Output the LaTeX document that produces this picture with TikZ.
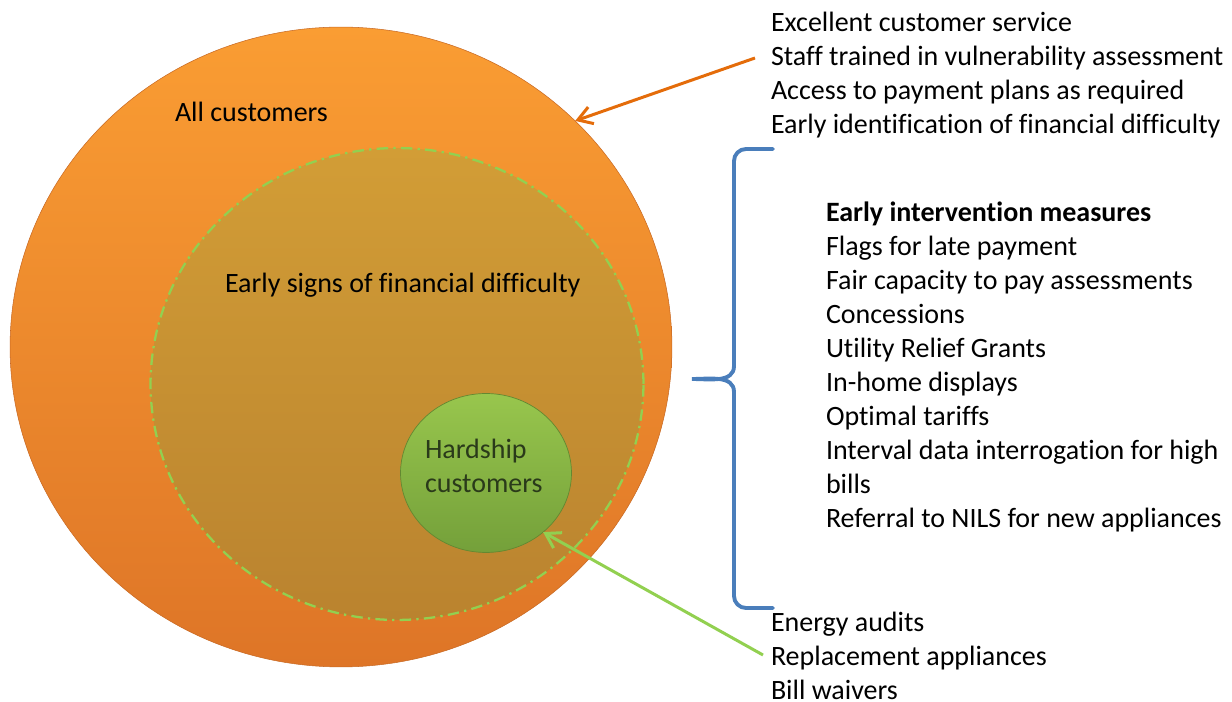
\documentclass[tikz,border=0pt]{standalone}
\usepackage{fontspec}
\setmainfont{Carlito}[Ligatures=NoCommon]
\usetikzlibrary{shapes.geometric,arrows.meta}
\definecolor{orangeTop}{HTML}{FA9D33}
\definecolor{orangeBot}{HTML}{DE7527}
\definecolor{midTop}{HTML}{D29D36}
\definecolor{midBot}{HTML}{BA832F}
\definecolor{greenTop}{HTML}{98C64D}
\definecolor{greenBot}{HTML}{74A03A}
\definecolor{greenLine}{HTML}{92D050}
\definecolor{orangeLine}{HTML}{E46C0A}
\definecolor{braceBlue}{HTML}{4A7EBB}
\definecolor{hardText}{HTML}{2A3A1A}
\begin{document}
\begin{tikzpicture}[x=0.02cm,y=-0.02cm]
	    \tikzset{>={Straight Barb[length=8pt,width=10pt]},
	      txt/.style={inner sep=0,outer sep=0,align=left,
	        font=\fontsize{15.93}{19.35}\selectfont},
	      disc/.style={ellipse,inner sep=0,outer sep=0}}
	    \useasboundingbox (0,0) rectangle (1232,702);
	    % the three circles
	    \node (all) [disc,minimum width=13.24cm,minimum height=12.8cm,
	      top color=orangeTop,bottom color=orangeBot,draw=orangeBot!90!black,line width=0.3pt] at (341,347) {};
	    \node (early) [disc,minimum width=9.86cm,minimum height=9.44cm,
	      top color=midTop,bottom color=midBot,draw=greenLine,line width=1.3pt,
	      dash pattern=on 6.5pt off 3pt on 1.3pt off 3pt] at (397,384) {};
	    \node (hard) [disc,minimum width=3.42cm,minimum height=3.18cm,
	      top color=greenTop,bottom color=greenBot,draw=greenBot!85!black,line width=0.4pt] at (486,473) {};
	    \node (allt) [txt,anchor=base west] at (175,122) {All customers};
	    \node (earlyt) [txt,anchor=base west] at (225,293) {Early signs of financial difficulty};
	    \node (hardt) [txt,anchor=north west,text=hardText] at (425,439) {Hardship\\customers};
	    % text on the right
	    \node (top) [txt,anchor=north west] at (771,12) {Excellent customer service\\
	      Staff trained in vulnerability assessment\\
	      Access to payment plans as required\\
	      Early identification of financial difficulty};
	    \node (mid) [txt,anchor=north west] at (826,202) {\textbf{Early intervention measures}\\
	      Flags for late payment\\
	      Fair capacity to pay assessments\\
	      Concessions\\
	      Utility Relief Grants\\
	      In-home displays\\
	      Optimal tariffs\\
	      Interval data interrogation for high\\
	      bills\\
	      Referral to NILS for new appliances};
	    \node (bot) [txt,anchor=north west] at (771,612) {Energy audits\\
	      Replacement appliances\\
	      Bill waivers};
	    % arrows and brace
	    \coordinate (os) at (755,58);
	    \coordinate (gs) at (763,655);
	    \draw [->,orangeLine,line width=1.7pt] (os) -- (all.44);
	    \draw [->,greenLine,line width=1.7pt] (gs) -- (hard.-46);
	    \coordinate (bt) at (773,149);
	    \coordinate (bc) at (692,379);
	    \coordinate (bb) at (773,608);
	    \draw [braceBlue,line width=2.2pt,line cap=round]
	      (bt) -- (746,149) to[out=180,in=90] (734,161) -- (734,366)
	      to[out=-90,in=0] (bc) to[out=0,in=90] (734,392) -- (734,596)
	      to[out=-90,in=180] (746,608) -- (bb);
	\end{tikzpicture}
\end{document}
